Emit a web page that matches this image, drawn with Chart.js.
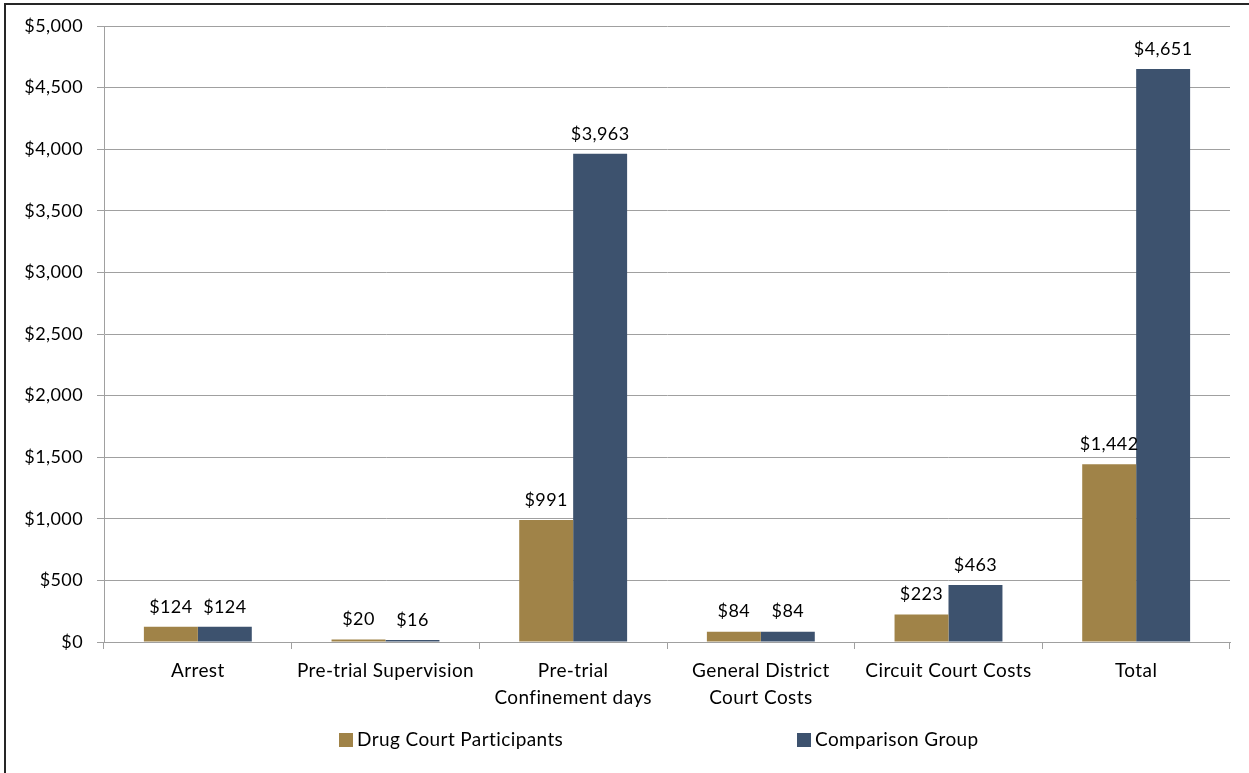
<!DOCTYPE html>
<html>
<head>
<meta charset="utf-8">
<script src="https://cdn.jsdelivr.net/npm/chart.js@4"></script>
<style>
  html, body { margin: 0; padding: 0; background: #fff; overflow: hidden; }
  #frame { position: absolute; left: 4px; top: 3px; width: 1300px; height: 900px; border: 2px solid #262626; box-sizing: border-box; }
  #c { position: absolute; left: 0; top: 0; }
</style>
</head>
<body>
<div id="frame"></div>
<canvas id="c" width="1249" height="773"></canvas>
<script>
const categories = [
  'Arrest',
  'Pre-trial Supervision',
  ['Pre-trial', 'Confinement days'],
  ['General District', 'Court Costs'],
  'Circuit Court Costs',
  'Total'
];
const drugCourt = [124, 20, 991, 84, 223, 1442];
const comparison = [124, 16, 3963, 84, 463, 4651];
const seriesNames = ['Drug Court Participants', 'Comparison Group'];
const yTickLabels = ['$0', '$500', '$1,000', '$1,500', '$2,000', '$2,500', '$3,000', '$3,500', '$4,000', '$4,500', '$5,000'];

const FONT = 'Lato, "Open Sans", sans-serif';
const FSIZE = 19;
const NSIZE = 18;
const SPACING = '0.4px';
const GOLD = '#A08348';
const NAVY = '#3D526E';
const GRID = '#a0a0a0';

const spacingPlugin = {
  id: 'spacing',
  beforeUpdate(chart) { chart.ctx.letterSpacing = SPACING; },
  beforeDraw(chart) { chart.ctx.letterSpacing = SPACING; }
};

const valueLabels = {
  id: 'valueLabels',
  afterDatasetsDraw(chart) {
    const ctx = chart.ctx;
    ctx.save();
    ctx.letterSpacing = SPACING;
    ctx.font = NSIZE + 'px ' + FONT;
    ctx.fillStyle = '#000';
    ctx.textAlign = 'center';
    ctx.textBaseline = 'middle';
    chart.data.datasets.forEach((ds, i) => {
      chart.getDatasetMeta(i).data.forEach((el, j) => {
        ctx.fillText('$' + ds.data[j].toLocaleString('en-US'), el.x, el.y - 20);
      });
    });
    ctx.restore();
  }
};

const customLegend = {
  id: 'customLegend',
  afterDraw(chart) {
    const ctx = chart.ctx;
    const xs = [339, 797];
    const cy = 740;
    ctx.save();
    ctx.letterSpacing = SPACING;
    ctx.font = FSIZE + 'px ' + FONT;
    ctx.textBaseline = 'middle';
    ctx.textAlign = 'left';
    chart.data.datasets.forEach((ds, i) => {
      ctx.fillStyle = ds.backgroundColor;
      ctx.fillRect(xs[i], cy - 7, 14, 14);
      ctx.fillStyle = '#000';
      ctx.fillText(ds.label, xs[i] + 18, cy);
    });
    ctx.restore();
  }
};

new Chart(document.getElementById('c'), {
  type: 'bar',
  data: {
    labels: categories,
    datasets: [
      { label: seriesNames[0], data: drugCourt, backgroundColor: GOLD },
      { label: seriesNames[1], data: comparison, backgroundColor: NAVY }
    ]
  },
  options: {
    responsive: false,
    animation: false,
    devicePixelRatio: 1,
    layout: { padding: { left: 0, right: 19, top: 26, bottom: 0 } },
    datasets: { bar: { categoryPercentage: 0.575, barPercentage: 1.0 } },
    plugins: { legend: { display: false }, tooltip: { enabled: false } },
    scales: {
      x: {
        afterFit(s) { s.height = 131; },
        grid: { display: true, drawOnChartArea: false, offset: true, tickLength: 7, color: GRID },
        border: { display: true, color: GRID },
        ticks: { color: '#000', font: { family: FONT, size: FSIZE, lineHeight: '27px' }, padding: 8, maxRotation: 0, autoSkip: false }
      },
      y: {
        min: 0, max: 5000,
        afterFit(s) { s.width = 104; },
        grid: { color: GRID, tickLength: 7 },
        border: { display: true, color: GRID },
        ticks: {
          stepSize: 500,
          color: '#000',
          font: { family: FONT, size: NSIZE },
          padding: 14,
          callback: (v, i) => yTickLabels[i]
        }
      }
    }
  },
  plugins: [spacingPlugin, valueLabels, customLegend]
});
</script>
</body>
</html>
